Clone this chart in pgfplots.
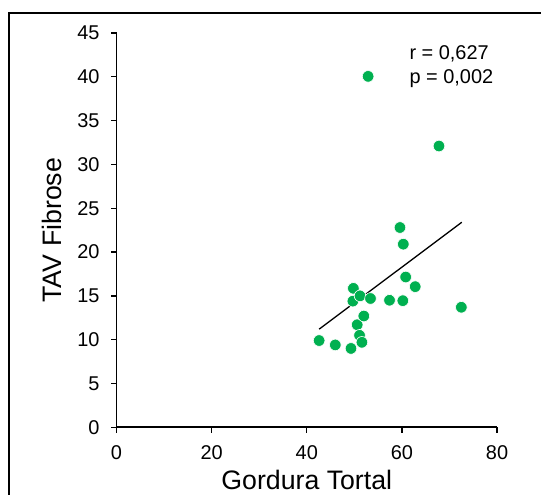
\documentclass[border=0pt]{standalone}
\usepackage{fontspec}
\setmainfont{Liberation Sans}
\usepackage{pgfplots}
\pgfplotsset{compat=1.18}
\definecolor{ptgreen}{RGB}{0,176,80}
\pgfplotstableread{
x y
42.6 9.9
46.0 9.4
49.3 9.0
49.7 14.4
49.8 15.86
50.6 11.7
51.1 10.5
51.2 15.0
51.6 9.7
52.0 12.7
52.9 40.05
53.4 14.7
57.4 14.5
59.6 22.8
60.2 14.45
60.3 20.9
60.8 17.15
62.8 16.05
67.8 32.1
72.5 13.7
}\datatab
\pgfplotstableread{
x y
42.6 11.2
72.6 23.4
}\fittab
\begin{document}
\begin{tikzpicture}[x=1bp,y=1bp]
\useasboundingbox (-116.5,-67.7) rectangle (424.5,427.3);
\draw[line width=1.7bp] (-107.2,-75) -- (-107.2,414.6) -- (430,414.6);
\begin{axis}[
  at={(0,0)}, anchor=south west,
  scale only axis, width=380.5bp, height=394.3bp,
  xmin=0, xmax=80, ymin=0, ymax=45,
  axis lines=left, axis line style={-, line width=1.6bp},
  xtick={0,20,40,60,80}, ytick={0,5,...,45},
  tick align=outside, major tick length=5.5bp,
  tick style={black, line width=1.3bp},
  /pgf/number format/assume math mode=true,
  tick label style={font=\fontsize{20}{24}\selectfont},
  yticklabel style={xshift=-8bp},
  xticklabel style={yshift=-9bp},
  clip=false,
]
\addplot[only marks, mark=*, mark size=5.8bp, mark options={fill=ptgreen, draw=white, line width=0.6bp}] table[x=x,y=y] {\datatab};
\addplot[no marks, black, line width=1.3bp] table[x=x,y=y] {\fittab};
\node[anchor=base west, font=\fontsize{20}{24}\selectfont] at (axis cs:60.87,41.92) {r = 0,627};
\node[anchor=base west, font=\fontsize{20}{24}\selectfont] at (axis cs:60.87,39.29) {p = 0,002};
\end{axis}
\node[anchor=base, font=\fontsize{26.8}{30}\selectfont] at (190.25,-62.6) {Gordura Tortal};
\node[anchor=base, rotate=90, font=\fontsize{26.8}{30}\selectfont] at (-55.5,197.15) {TAV Fibrose};
\end{tikzpicture}
\end{document}
